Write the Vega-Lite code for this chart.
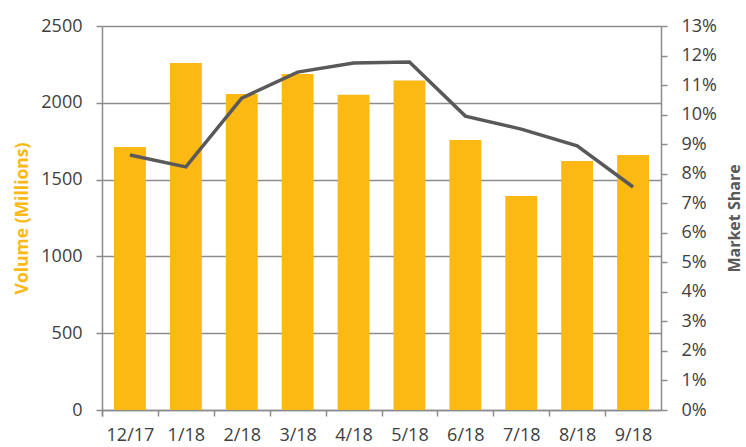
{
  "$schema": "https://vega.github.io/schema/vega-lite/v6.json",
  "width": 559,
  "height": 384,
  "autosize": {"type": "none"},
  "padding": {"left": 102, "top": 26, "right": 85, "bottom": 37},
  "background": "white",
  "config": {
    "view": {"stroke": null},
    "font": "Open Sans",
    "axis": {
      "labelFont": "Open Sans",
      "labelFontSize": 18,
      "labelColor": "#404040",
      "domainColor": "#8c8c8c",
      "domainWidth": 1.5,
      "tickColor": "#8c8c8c",
      "tickWidth": 1.5,
      "tickSize": 6,
      "gridColor": "#8c8c8c",
      "gridWidth": 1.5
    }
  },
  "data": {
    "values": [
      {"month": "12/17", "volume": 1712, "share": 0.0863},
      {"month": "1/18", "volume": 2259, "share": 0.0823},
      {"month": "2/18", "volume": 2057, "share": 0.1056},
      {"month": "3/18", "volume": 2188, "share": 0.1144},
      {"month": "4/18", "volume": 2052, "share": 0.1175},
      {"month": "5/18", "volume": 2145, "share": 0.1178},
      {"month": "6/18", "volume": 1758, "share": 0.0995},
      {"month": "7/18", "volume": 1393, "share": 0.0951},
      {"month": "8/18", "volume": 1621, "share": 0.0894},
      {"month": "9/18", "volume": 1660, "share": 0.0755}
    ]
  },
  "encoding": {
    "x": {
      "field": "month",
      "type": "ordinal",
      "sort": null,
      "scale": {"paddingInner": 0.43, "paddingOuter": 0.215},
      "axis": {
        "title": null,
        "labelAngle": 0,
        "labelPadding": 10,
        "labelOffset": 12,
        "bandPosition": 0,
        "tickExtra": true,
        "tickOffset": -12,
        "grid": false
      }
    }
  },
  "layer": [
    {
      "mark": {"type": "bar", "color": "#FCB813"},
      "encoding": {
        "y": {
          "field": "volume",
          "type": "quantitative",
          "scale": {"domain": [0, 2500], "nice": false},
          "axis": {
            "title": "Volume (Millions)",
            "titleColor": "#FCB813",
            "titleFontSize": 17.5,
            "titleFontWeight": "bold",
            "titleFont": "Open Sans",
            "titlePadding": 9,
            "format": "d",
            "values": [0, 500, 1000, 1500, 2000, 2500],
            "labelPadding": 14,
            "grid": true
          }
        }
      }
    },
    {
      "mark": {"type": "line", "color": "#595959", "strokeWidth": 3.5},
      "encoding": {
        "y": {
          "field": "share",
          "type": "quantitative",
          "scale": {"domain": [0, 0.13], "nice": false},
          "axis": {
            "orient": "right",
            "title": "Market Share",
            "titleColor": "#595959",
            "titleFontSize": 16,
            "titleFontWeight": "bold",
            "titleFont": "Open Sans",
            "titleAngle": -90,
            "titlePadding": 26,
            "format": ".0%",
            "values": [0, 0.01, 0.02, 0.03, 0.04, 0.05, 0.06, 0.07, 0.08, 0.09, 0.1, 0.11, 0.12, 0.13],
            "labelPadding": 14,
            "grid": false
          }
        }
      }
    }
  ],
  "resolve": {"scale": {"y": "independent"}}
}
